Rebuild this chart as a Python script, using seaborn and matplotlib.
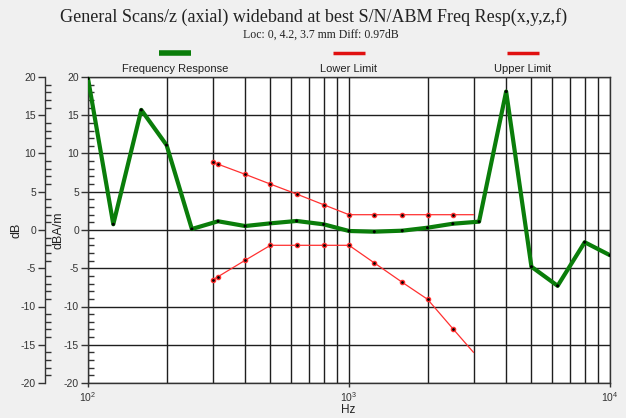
import matplotlib
matplotlib.use('Agg')
import matplotlib.pyplot as plt
import seaborn as sns
import numpy as np
import pandas as pd
from matplotlib.ticker import MultipleLocator, LogLocator, NullFormatter
from matplotlib.lines import Line2D

# ---- data ----
freq_resp_hz = [100, 125, 160, 200, 250, 315, 400, 500, 630, 800, 1000, 1250,
                1600, 2000, 2500, 3150, 4000, 5000, 6300, 8000, 10000]
freq_resp_db = [19.8, 0.75, 15.7, 11.1, 0.13, 1.14, 0.52, 0.87, 1.18, 0.74, -0.13, -0.22,
                -0.09, 0.3, 0.82, 1.09, 18.1, -4.8, -7.3, -1.6, -3.3]
limit_hz = [300, 315, 400, 500, 630, 800, 1000, 1250, 1600, 2000, 2500, 3000]
lower_db = [-6.5, -6.1, -3.96, -2.0, -2.0, -2.0, -2.0, -4.3, -6.84, -9.06, -12.9, -16.0]
upper_db = [8.85, 8.6, 7.28, 6.0, 4.7, 3.3, 2.0, 2.0, 2.0, 2.0, 2.0, 2.0]
y_ticks = [-20, -15, -10, -5, 0, 5, 10, 15, 20]
legend_labels = ["Frequency Response", "Lower Limit", "Upper Limit"]
title = "General Scans/z (axial) wideband at best S/N/ABM Freq Resp(x,y,z,f)"
subtitle = "Loc: 0, 4.2, 3.7 mm Diff: 0.97dB"

sns.set_theme(style='white')
plt.rcParams['font.family'] = ['Liberation Sans', 'DejaVu Sans']
plt.rcParams['axes.unicode_minus'] = False

W, H = 626, 418
fig = plt.figure(figsize=(W / 100, H / 100), dpi=100, facecolor='#f0f0f0')
L, R, T, B = 88, 610, 77, 383
ax = fig.add_axes([L / W, 1 - B / H, (R - L) / W, (B - T) / H])
ax.set_facecolor('white')

GREEN = '#0a7d0a'
RED = '#ff3030'

fr = pd.DataFrame({'hz': freq_resp_hz, 'db': freq_resp_db})
lim = pd.DataFrame({'hz': limit_hz, 'lower': lower_db, 'upper': upper_db})

sns.lineplot(data=fr, x='hz', y='db', ax=ax, color=GREEN, lw=3.0, estimator=None,
             sort=False, zorder=5, solid_capstyle='round', solid_joinstyle='round')
sns.scatterplot(data=fr, x='hz', y='db', ax=ax, color='black', s=5, edgecolor='none', zorder=6)
for col in ['lower', 'upper']:
    sns.lineplot(data=lim, x='hz', y=col, ax=ax, color=RED, lw=0.9, estimator=None,
                 sort=False, zorder=4)
    sns.scatterplot(data=lim.iloc[:-1], x='hz', y=col, ax=ax, color='black', s=9,
                    edgecolor=RED, linewidth=1.0, zorder=6)

ax.set_xscale('log')
ax.set_xlim(100, 10000)
ax.set_ylim(-20, 20)
ax.set_yticks(y_ticks)
ax.yaxis.set_minor_locator(MultipleLocator(1))
ax.xaxis.set_minor_locator(LogLocator(base=10, subs=np.arange(2, 10)))
ax.xaxis.set_minor_formatter(NullFormatter())
ax.set_xlabel('')
ax.set_ylabel('')

ax.grid(True, which='major', axis='both', color='#1e1e1e', lw=1.0)
ax.grid(True, which='minor', axis='x', color='#1e1e1e', lw=1.0)
ax.set_axisbelow(True)
for s in ax.spines.values():
    s.set_color('#333333')
    s.set_linewidth(1.0)

ax.tick_params(axis='y', which='major', direction='out', length=5, width=1,
               labelsize=7.5, labelcolor='#333333', color='#333333', left=True, pad=1.5)
ax.tick_params(axis='y', which='minor', direction='in', length=4, width=1,
               color='#333333', left=True)
ax.tick_params(axis='x', which='major', direction='out', length=3, width=1,
               labelsize=7.5, labelcolor='#333333', color='#333333', bottom=True, pad=2)
ax.tick_params(axis='x', which='minor', length=0)

# secondary left axis (dB)
ax2 = fig.add_axes([45 / W, 1 - B / H, 0.0001, (B - T) / H])
ax2.set_facecolor('none')
for k in ['top', 'right', 'bottom']:
    ax2.spines[k].set_visible(False)
ax2.spines['left'].set_color('#333333')
ax2.spines['left'].set_linewidth(1.0)
ax2.set_ylim(-20, 20)
ax2.set_yticks(y_ticks)
ax2.yaxis.set_minor_locator(MultipleLocator(1))
ax2.set_xticks([])
ax2.tick_params(axis='y', which='major', direction='out', length=5, width=1,
                labelsize=7.5, labelcolor='#333333', color='#333333', left=True, pad=1.5)
ax2.tick_params(axis='y', which='minor', direction='in', length=4, width=1,
                color='#333333', left=True)

# labels
fig.text(17 / W, 1 - 230 / H, 'dB', rotation=90, ha='center', va='center', fontsize=9, color='#222222')
fig.text(59 / W, 1 - 230 / H, 'dBA/m', rotation=90, ha='center', va='center', fontsize=9, color='#222222')
fig.text(348 / W, 1 - 410 / H, 'Hz', ha='center', va='center', fontsize=8.5, color='#222222')

fig.text(314 / W, 1 - 17 / H, title, ha='center', va='center', fontsize=13,
         family=['Liberation Serif', 'DejaVu Serif'], color='#222222')
fig.text(321 / W, 1 - 35 / H, subtitle, ha='center', va='center', fontsize=8.5,
         family=['Liberation Serif', 'DejaVu Serif'], color='#222222')

# legend (sample line above text)
leg_x = [175, 349, 523]
leg_col = [GREEN, '#e01010', '#e01010']
leg_lw = [4.0, 2.5, 2.5]
for x, c, lw, lab in zip(leg_x, leg_col, leg_lw, legend_labels):
    fig.add_artist(Line2D([(x - 16) / W, (x + 16) / W], [1 - 53 / H] * 2, color=c, lw=lw,
                          solid_capstyle='butt', transform=fig.transFigure))
    fig.text(x / W, 1 - 69 / H, lab, ha='center', va='center', fontsize=8, color='#222222')

fig.savefig('out.png', dpi=100, facecolor=fig.get_facecolor())
